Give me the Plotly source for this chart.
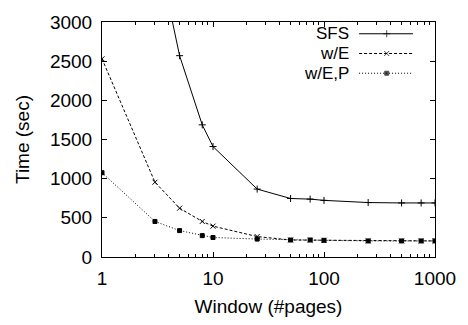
import plotly.graph_objects as go

window = [1, 3, 5, 8, 10, 25, 50, 75, 100, 250, 500, 750, 1000]
sfs = [10000, 4060, 2570, 1687, 1410, 867, 747, 739, 723, 695, 690, 690, 690]
w_e = [2530, 955, 623, 454, 394, 261, 217, 215, 213, 205, 205, 205, 205]
w_ep = [1076, 454, 337, 273, 249, 229, 217, 217, 213, 205, 205, 205, 205]

series = [
    ("SFS", sfs, "solid", "cross-thin", 5),
    ("w/E", w_e, "3px,2px", "x-thin", 5),
    ("w/E,P", w_ep, "1px,2px", "square", 4),
]

x_ticks = [1, 10, 100, 1000]
x_minor = [m * d for d in (1, 10, 100) for m in range(2, 10)]
y_ticks = [0, 500, 1000, 1500, 2000, 2500, 3000]

FONT = "Liberation Sans, Arial, sans-serif"
fig = go.Figure()

for name, vals, dash, sym, sz in series:
    fig.add_trace(go.Scatter(
        x=window, y=vals, mode="lines+markers", name=name,
        line=dict(color="black", width=1, dash=dash),
        marker=dict(symbol=sym, size=sz, color="black",
                    line=dict(color="black", width=1)),
        showlegend=False, cliponaxis=True,
    ))

# manual gnuplot-style legend (text left of sample)
leg_rows = [0.950, 0.866, 0.782]
for (name, vals, dash, sym, sz), yy in zip(series, leg_rows):
    fig.add_trace(go.Scatter(
        x=[0.772, 0.855, 0.934], y=[yy, yy, yy], mode="lines+markers",
        xaxis="x2", yaxis="y2",
        line=dict(color="black", width=1, dash=dash),
        marker=dict(symbol=sym, size=[0, sz, 0], color="black",
                    line=dict(color="black", width=1)),
        showlegend=False, hoverinfo="skip",
    ))
    fig.add_annotation(x=0.745, y=yy, xref="x2", yref="y2", text=name,
                       showarrow=False, xanchor="right", yanchor="middle",
                       borderpad=0,
                       font=dict(size=17, color="black", family=FONT))

axis_common = dict(showline=True, linecolor="black", linewidth=1, mirror="ticks",
                   ticks="inside", ticklen=5, tickcolor="black", tickwidth=1,
                   showgrid=False, zeroline=False,
                   tickfont=dict(size=19, color="black", family=FONT))

fig.update_layout(
    width=468, height=325,
    margin=dict(l=102, r=23, t=17, b=59),
    paper_bgcolor="white", plot_bgcolor="white",
    font=dict(family=FONT, size=19, color="black"),
    xaxis=dict(type="log", range=[0, 3], tickvals=x_ticks,
               ticktext=[str(v) for v in x_ticks],
               minor=dict(tickvals=x_minor, ticks="inside", ticklen=3,
                          tickcolor="black", showgrid=False),
               ticklabelstandoff=4,
               title=dict(text="Window (#pages)", standoff=11,
                          font=dict(size=19, family=FONT)),
               **axis_common),
    yaxis=dict(range=[0, 3000], tickvals=y_ticks, ticklabelstandoff=5,
               title=dict(text="Time (sec)", standoff=15,
                          font=dict(size=19, family=FONT)),
               **axis_common),
    xaxis2=dict(range=[0, 1], overlaying="x", visible=False, fixedrange=True),
    yaxis2=dict(range=[0, 1], overlaying="y", visible=False, fixedrange=True),
)

fig.write_html("out.html", config={"displayModeBar": False},
               post_script="document.body.style.margin='0';document.body.style.overflow='hidden';")
